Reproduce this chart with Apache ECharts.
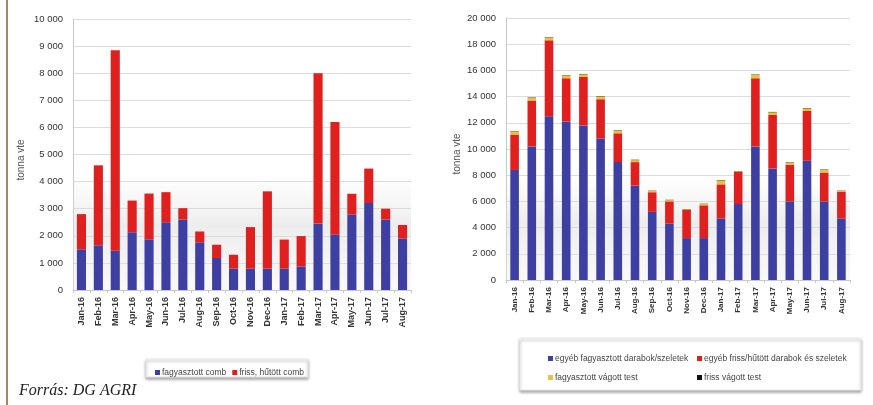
<!DOCTYPE html>
<html><head><meta charset="utf-8">
<script src="https://cdn.jsdelivr.net/npm/echarts@6/dist/echarts.min.js"></script>
<style>html,body{margin:0;padding:0;background:#fff}#c{width:873px;height:405px}</style>
</head><body><div id="c"></div>
<script>
const categories = ['Jan-16','Feb-16','Mar-16','Apr-16','May-16','Jun-16','Jul-16','Aug-16','Sep-16','Oct-16','Nov-16','Dec-16','Jan-17','Feb-17','Mar-17','Apr-17','May-17','Jun-17','Jul-17','Aug-17'];
// left chart
const fagyComb  = [1500,1650,1450,2130,1870,2500,2600,1760,1180,790,790,790,790,870,2450,2050,2780,3210,2600,1900];
const frissComb = [1300,2950,7400,1170,1690,1110,420,400,490,510,1530,2850,1070,1120,5550,4150,770,1270,400,500];
// right chart
const egyebFagy  = [8400,10200,12500,12100,11800,10800,9000,7200,5200,4300,3200,3200,4700,5800,10200,8500,6000,9100,6000,4700];
const egyebFriss = [2700,3500,5800,3300,3700,3000,2200,1800,1500,1700,2150,2500,2600,2450,5200,4100,2800,3800,2200,2050];
const fagyTest   = [250,200,200,200,200,200,200,150,100,100,50,100,300,50,250,200,150,200,200,50];
const frissTest  = [30,30,30,30,30,30,30,30,20,20,20,20,30,20,30,30,30,30,30,20];
const leftTicks = {min:0, max:10000, interval:1000};
const rightTicks = {min:0, max:20000, interval:2000};

const BLUE='#3d3fa3', RED='#e01f1f', YEL='#e8c23a', BLK='#111';
const fmt = v => String(v).replace(/\B(?=(\d{3})+(?!\d))/g,' ');
const FONT = 'Liberation Sans';
const shade = {type:'linear',x:0,y:0,x2:0,y2:1,colorStops:[{offset:0,color:'rgba(225,225,225,0)'},{offset:0.45,color:'rgba(215,215,215,0.45)'},{offset:1,color:'rgba(235,235,235,0.3)'}]};

const chart = echarts.init(document.getElementById('c'));
const yAx = (gi, t, fs) => ({gridIndex:gi, type:'value', min:t.min, max:t.max, interval:t.interval,
  axisLine:{show:true,lineStyle:{color:'#c8c8c8'}}, axisTick:{show:false},
  splitLine:{lineStyle:{color:'#dcdcdc',width:1}},
  axisLabel:{formatter:fmt, fontFamily:FONT, fontSize:fs, color:'#333', margin:10}});
const xAx = (gi, fs) => ({gridIndex:gi, type:'category', data:categories,
  axisLine:{lineStyle:{color:'#c8c8c8'}}, axisTick:{show:true,alignWithLabel:false,length:3,lineStyle:{color:'#c8c8c8'}},
  axisLabel:{rotate:90, interval:0, fontFamily:FONT, fontSize:fs, color:'#333', fontWeight:'bold', margin:7}});
const bar = (name, data, color, xi, stack, bw, extra) => Object.assign({name, type:'bar', data, stack, xAxisIndex:xi, yAxisIndex:xi,
  barWidth:bw, itemStyle:{color}}, extra||{});

const legendBase = {orient:'horizontal', itemWidth:5, itemHeight:5, itemGap:6, icon:'rect',
  textStyle:{fontFamily:FONT, fontSize:8.5, color:'#444', padding:[0,0,0,-3]}};

chart.setOption({
  animation:false,
  grid:[{left:73, right:462, top:19, bottom:115},{left:506, right:23, top:18, bottom:125}],
  xAxis:[xAx(0,9), xAx(1,8)],
  yAxis:[yAx(0,leftTicks,9.5), yAx(1,rightTicks,9.5)],
  legend:[
    Object.assign({}, legendBase, {data:['fagyasztott comb','friss, hűtött comb'], left:150, top:363, itemGap:6}),
    Object.assign({}, legendBase, {data:['egyéb fagyasztott darabok/szeletek'], left:543, top:349}),
    Object.assign({}, legendBase, {data:['egyéb friss/hűtött darabok és szeletek'], left:692, top:349}),
    Object.assign({}, legendBase, {data:['fagyasztott vágott test'], left:543, top:368}),
    Object.assign({}, legendBase, {data:['friss vágott test'], left:692, top:368})
  ],
  series:[
    bar('fagyasztott comb', fagyComb, BLUE, 0, 'a', '54%', {markArea:{silent:true, itemStyle:{color:shade}, data:[[{yAxis:0},{yAxis:4300}]]}}),
    bar('friss, hűtött comb', frissComb, RED, 0, 'a', '54%'),
    bar('egyéb fagyasztott darabok/szeletek', egyebFagy, BLUE, 1, 'b', '50%', {markArea:{silent:true, itemStyle:{color:shade}, data:[[{yAxis:0},{yAxis:8000}]]}}),
    bar('egyéb friss/hűtött darabok és szeletek', egyebFriss, RED, 1, 'b', '50%'),
    bar('fagyasztott vágott test', fagyTest, YEL, 1, 'b', '50%'),
    bar('friss vágott test', frissTest, BLK, 1, 'b', '50%')
  ],
  graphic:[
    {type:'line', shape:{x1:7,y1:0,x2:7,y2:405}, style:{stroke:'#a8875c', lineWidth:2}, z:10},
    {type:'rect', shape:{x:146,y:359,width:162,height:18}, style:{fill:'#fff', stroke:'#e6e6e6', shadowBlur:3, shadowOffsetY:2, shadowColor:'rgba(0,0,0,0.35)'}, z:-1},
    {type:'rect', shape:{x:520,y:338,width:341,height:52}, style:{fill:'#fff', stroke:'#ececec', shadowBlur:3, shadowOffsetY:2, shadowColor:'rgba(0,0,0,0.35)'}, z:-1},
    {type:'text', x:21, y:160, rotation:Math.PI/2, style:{text:'tonna vte', fontFamily:FONT, fontSize:10, fill:'#555', align:'center', verticalAlign:'middle'}},
    {type:'text', x:457, y:154, rotation:Math.PI/2, style:{text:'tonna vte', fontFamily:FONT, fontSize:10, fill:'#555', align:'center', verticalAlign:'middle'}},
    {type:'text', left:19, top:383, style:{text:'Forrás: DG AGRI', fontFamily:'Liberation Serif', fontStyle:'italic', fontSize:16, fill:'#222'}}
  ]
});
</script></body></html>
